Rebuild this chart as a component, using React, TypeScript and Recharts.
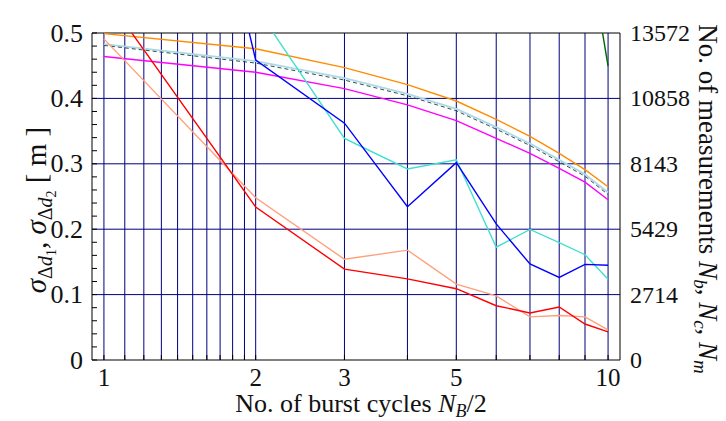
import React from "react";
import { LineChart, Line, XAxis, YAxis, CartesianGrid, ReferenceLine } from "recharts";

// x: half the number of burst cycles
const cycles = [1, 2, 3, 4, 5, 6, 7, 8, 9, 10];

// left axis, sigma [m]
const sigmaOrange = [0.499, 0.476, 0.447, 0.421, 0.396, 0.368, 0.342, 0.316, 0.291, 0.265];
const sigmaLightBlue = [0.483, 0.457, 0.431, 0.407, 0.384, 0.356, 0.331, 0.306, 0.284, 0.256];
const sigmaDashed = [0.481, 0.454, 0.428, 0.404, 0.381, 0.353, 0.328, 0.303, 0.281, 0.253];
const sigmaMagenta = [0.464, 0.44, 0.415, 0.39, 0.366, 0.339, 0.316, 0.293, 0.272, 0.245];
const sigmaD1 = [0.56, 0.234, 0.139, 0.124, 0.109, 0.083, 0.072, 0.081, 0.055, 0.043];
const sigmaD2 = [0.491, 0.248, 0.154, 0.168, 0.116, 0.098, 0.066, 0.068, 0.066, 0.046];

// right axis, number of measurements
const countNb = [39000, 12450, 9830, 6360, 8190, 5650, 3985, 3430, 3970, 3930];
const countNc = [null, 14660, 9200, 7930, 8310, 4680, 5420, 4870, 4370, 3350];
const countNm = [null, null, null, null, null, null, null, null, 17950, 12200];

// ticks
const xGridTicks = [1, 1.1, 1.2, 1.3, 1.4, 1.5, 1.6, 1.7, 1.8, 1.9, 2, 3, 4, 5, 6, 7, 8, 9, 10];
const xLabels = [1, 2, 3, 5, 10];
const leftTicks = [
  0, 0.02, 0.04, 0.06, 0.08, 0.1, 0.12, 0.14, 0.16, 0.18, 0.2, 0.22, 0.24,
  0.26, 0.28, 0.3, 0.32, 0.34, 0.36, 0.38, 0.4, 0.42, 0.44, 0.46, 0.48, 0.5,
];
const leftLabels = [0, 0.1, 0.2, 0.3, 0.4, 0.5];
const rightTicks = [0, 2714.4, 5428.8, 8143.2, 10857.6, 13572];

const data = cycles.map((c, i) => ({
  cycles: c,
  orange: sigmaOrange[i],
  lightblue: sigmaLightBlue[i],
  dashed: sigmaDashed[i],
  magenta: sigmaMagenta[i],
  d1: sigmaD1[i],
  d2: sigmaD2[i],
  nb: countNb[i],
  nc: countNc[i],
  nm: countNm[i],
}));

const FONT = "Liberation Serif, Times New Roman, DejaVu Serif, serif";
const NAVY = "#000080";
const txt = { fontFamily: FONT };

const near = (a: number, list: number[]) => list.some((b) => Math.abs(a - b) < 1e-6);

const BottomTick = (props: any) => {
  const { x, y, payload } = props;
  const v = payload.value;
  return (
    <g>
      <line x1={x} x2={x} y1={y} y2={y - 5} stroke="#000" />
      {near(v, xLabels) && (
        <text x={x} y={y + 26} textAnchor="middle" fontSize={25} style={txt} fill="#111">
          {v}
        </text>
      )}
    </g>
  );
};

const LeftTick = (props: any) => {
  const { x, y, payload } = props;
  const v = payload.value;
  return (
    <g>
      <line x1={x} x2={x + 5} y1={y} y2={y} stroke="#000" />
      {near(v, leftLabels) && (
        <text x={x - 9} y={y} dy="0.33em" textAnchor="end" fontSize={26} style={txt} fill="#111">
          {v === 0 ? "0" : v.toFixed(1)}
        </text>
      )}
    </g>
  );
};

const RightTick = (props: any) => {
  const { x, y, payload } = props;
  return (
    <text x={x + 10} y={y} dy="0.33em" textAnchor="start" fontSize={24} style={txt} fill="#111">
      {Math.round(payload.value)}
    </text>
  );
};

const Titles = () => (
  <svg
    width={726}
    height={421}
    style={{ position: "absolute", left: 0, top: 0, pointerEvents: "none", fontFamily: FONT }}
    fill="#111"
  >
    <text x={361} y={412} textAnchor="middle" fontSize={26} style={txt}>
      No. of burst cycles <tspan fontStyle="italic">N</tspan>
      <tspan dy={5} fontSize={18} fontStyle="italic">B</tspan>
      <tspan dy={-5}>/2</tspan>
    </text>
    <text transform="translate(46,210) rotate(-90)" textAnchor="middle" fontSize={29} style={txt}>
      <tspan fontStyle="italic">σ</tspan>
      <tspan dy={6} fontSize={20}>Δ</tspan>
      <tspan fontSize={20} fontStyle="italic">d</tspan>
      <tspan dy={4} fontSize={14}>1</tspan>
      <tspan dy={-10}>, </tspan>
      <tspan fontStyle="italic">σ</tspan>
      <tspan dy={6} fontSize={20}>Δ</tspan>
      <tspan fontSize={20} fontStyle="italic">d</tspan>
      <tspan dy={4} fontSize={14}>2</tspan>
      <tspan dy={-10}> [ m ]</tspan>
    </text>
    <text transform="translate(699,199) rotate(90)" textAnchor="middle" fontSize={27} style={txt}>
      No. of measurements <tspan fontStyle="italic">N</tspan>
      <tspan dy={5} fontSize={19} fontStyle="italic">b</tspan>
      <tspan dy={-5}>, </tspan>
      <tspan fontStyle="italic">N</tspan>
      <tspan dy={5} fontSize={19} fontStyle="italic">c</tspan>
      <tspan dy={-5}>, </tspan>
      <tspan fontStyle="italic">N</tspan>
      <tspan dy={5} fontSize={19} fontStyle="italic">m</tspan>
    </text>
  </svg>
);

const App = () => (
  <div style={{ position: "absolute", left: 0, top: 0, width: 726, height: 421, background: "#fff", fontFamily: FONT }}>
    <LineChart width={726} height={421} data={data} margin={{ top: 33, right: 0, bottom: 0, left: 0 }}>
      <CartesianGrid
        yAxisId="left"
        stroke={NAVY}
        strokeWidth={1}
        horizontalValues={[0.1, 0.2, 0.3, 0.4]}
        verticalValues={xGridTicks}
      />
      <XAxis
        dataKey="cycles"
        type="number"
        scale="log"
        domain={[0.947, 10.56]}
        allowDataOverflow
        ticks={xGridTicks}
        interval={0}
        tick={BottomTick}
        tickLine={false}
        tickSize={0}
        tickMargin={0}
        axisLine={{ stroke: "#000" }}
        height={61}
      />
      <YAxis
        yAxisId="left"
        domain={[0, 0.5]}
        allowDataOverflow
        ticks={leftTicks}
        interval={0}
        tick={LeftTick}
        tickLine={false}
        tickSize={0}
        tickMargin={0}
        axisLine={{ stroke: "#000" }}
        width={92}
      />
      <YAxis
        yAxisId="right"
        orientation="right"
        domain={[0, 13572]}
        allowDataOverflow
        ticks={rightTicks}
        interval={0}
        tick={RightTick}
        tickLine={false}
        tickSize={0}
        tickMargin={0}
        axisLine={{ stroke: "#000" }}
        width={106}
      />
      <ReferenceLine yAxisId="left" y={0.5} stroke="#000" />

      <Line yAxisId="left" dataKey="orange" stroke="#FF8C00" strokeWidth={1.4} dot={false} isAnimationActive={false} />
      <Line yAxisId="left" dataKey="lightblue" stroke="#ADD8E6" strokeWidth={1.8} dot={false} isAnimationActive={false} />
      <Line yAxisId="left" dataKey="dashed" stroke="#2F4F4F" strokeWidth={1} strokeDasharray="4 3" dot={false} isAnimationActive={false} />
      <Line yAxisId="left" dataKey="magenta" stroke="#FF00FF" strokeWidth={1.4} dot={false} isAnimationActive={false} />
      <Line yAxisId="left" dataKey="d2" stroke="#FFA07A" strokeWidth={1.4} dot={false} isAnimationActive={false} />
      <Line yAxisId="left" dataKey="d1" stroke="#FF0000" strokeWidth={1.4} dot={false} isAnimationActive={false} />
      <Line yAxisId="right" dataKey="nc" stroke="#40E0D0" strokeWidth={1.4} dot={false} isAnimationActive={false} />
      <Line yAxisId="right" dataKey="nb" stroke="#0000FF" strokeWidth={1.4} dot={false} isAnimationActive={false} />
      <Line yAxisId="right" dataKey="nm" stroke="#006400" strokeWidth={1.4} dot={false} isAnimationActive={false} />
    </LineChart>
    <Titles />
  </div>
);

export default App;
